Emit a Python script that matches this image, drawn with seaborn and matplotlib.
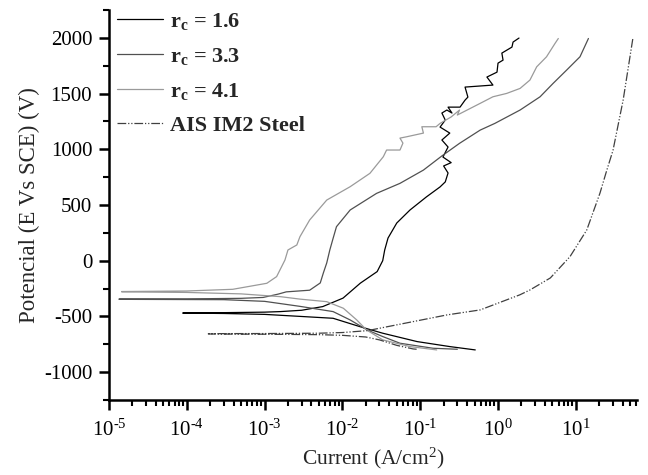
import numpy as np
import pandas as pd
import matplotlib
matplotlib.use("Agg")
import matplotlib.pyplot as plt
from matplotlib.ticker import LogLocator, MultipleLocator, NullFormatter, FuncFormatter
import seaborn as sns

# Polarization curves: current density (A/cm^2) and potential (mV vs SCE),
# each traced from the cathodic end through E_corr and up the anodic branch.
i_16 = [0.51, 0.24, 0.091, 0.033, 0.0168, 0.0076, 0.00285, 0.001, 3e-4, 8.9e-5,
        2e-4, 1e-3, 1.6e-3, 3e-3, 5.6e-3, 0.0102, 0.017, 0.028, 0.033, 0.035, 0.0386,
        0.05, 0.074, 0.12, 0.18, 0.21, 0.228, 0.2, 0.25, 0.196, 0.228, 0.19, 0.24,
        0.18, 0.21, 0.19, 0.22, 0.256, 0.228, 0.325, 0.377, 0.41, 0.377, 0.86, 0.72,
        0.97, 1.0, 1.16, 1.12, 1.51, 1.56, 1.86]
e_16 = [-801, -771, -726, -651, -592, -517, -500, -482, -474, -470,
        -468, -462, -457, -445, -412, -336, -202, -98, 0, 96, 203,
        338, 455, 572, 662, 707, 787, 850, 880, 930, 1020, 1083, 1145,
        1199, 1262, 1325, 1352, 1325, 1378, 1378, 1441, 1468, 1558, 1576, 1648,
        1692, 1773, 1800, 1863, 1917, 1962, 1998]

i_33 = [0.30, 0.146, 0.055, 0.033, 0.0207, 0.0126, 0.0076, 0.00285, 1e-3, 3e-4, 1.35e-5,
        1.35e-5, 1e-4, 5e-4, 9.6e-4, 1.5e-3, 1.9e-3, 3.8e-3, 5.2e-3, 5.7e-3, 6.3e-3,
        6.9e-3, 7.6e-3, 8.4e-3, 0.0126, 0.0275, 0.055, 0.11, 0.19, 0.32, 0.59, 0.91,
        1.92, 3.47, 5.1, 7.6, 11.3, 14.5]
e_33 = [-795, -786, -741, -681, -621, -532, -457, -410, -365, -350, -347,
        -344, -343, -338, -330, -300, -280, -265, -200, -110, -20,
        96, 200, 305, 455, 604, 694, 813, 940, 1053, 1172, 1232,
        1352, 1471, 1591, 1710, 1830, 1994]

i_41 = [0.163, 0.074, 0.033, 0.0204, 0.0153, 0.0103, 6.3e-3, 2.85e-3, 1.6e-3, 5e-4, 1e-4, 1.46e-5,
        1.46e-5, 1e-4, 3.9e-4, 1.07e-3, 1.43e-3, 1.83e-3, 2.0e-3, 2.6e-3, 2.85e-3, 3.8e-3,
        6.3e-3, 0.0126, 0.0226, 0.0336, 0.037, 0.055, 0.06, 0.055, 0.067, 0.11, 0.105,
        0.16, 0.18, 0.25, 0.32, 0.3, 0.59, 0.86, 1.29, 1.92, 2.57, 3.14, 4.2, 5.4, 5.95]
e_41 = [-801, -771, -711, -621, -532, -427, -368, -345, -323, -298, -285, -280,
        -277, -272, -257, -203, -143, 6, 96, 141, 215, 365,
        544, 664, 784, 933, 993, 993, 1055, 1100, 1112, 1145, 1202,
        1202, 1232, 1290, 1352, 1307, 1412, 1471, 1501, 1546, 1621, 1740, 1830, 1950, 1994]

i_ais = [0.09, 0.081, 0.05, 0.03, 0.02, 0.01, 5e-3, 1e-3, 1.9e-4,
         1.9e-4, 1e-3, 5e-3, 0.01, 0.021, 0.081, 0.22, 0.59, 1.9, 2.57, 4.7, 8.4,
         13.8, 20.4, 25, 30, 40.5, 54]
e_ais = [-795, -792, -760, -711, -685, -670, -664, -660, -658,
         -655, -654, -651, -645, -628, -547, -487, -442, -307, -263, -155, 36,
         275, 606, 813, 990, 1441, 1995]

labels = [r"$\mathbf{r_c}$ = 1.6", r"$\mathbf{r_c}$ = 3.3", r"$\mathbf{r_c}$ = 4.1", "AIS IM2 Steel"]
colors = ["#000000", "#505050", "#9a9a9a", "#404040"]
styles = ["-", "-", "-", (0, (7, 1.5, 1, 1.5, 1, 1.5))]

sns.set_theme(style="ticks")
plt.rcParams["font.family"] = ["Liberation Serif", "DejaVu Serif"]
plt.rcParams["mathtext.fontset"] = "custom"
plt.rcParams["mathtext.rm"] = "Liberation Serif"
plt.rcParams["mathtext.it"] = "Liberation Serif:italic"
plt.rcParams["mathtext.bf"] = "Liberation Serif:bold"
plt.rcParams["axes.unicode_minus"] = False

fig = plt.figure(figsize=(6.48, 4.75), dpi=100)
ax = fig.add_axes([0.168, 0.158, 0.815, 0.821])

series = [(i_16, e_16), (i_33, e_33), (i_41, e_41), (i_ais, e_ais)]
for (cur, pot), lab, col, ls in zip(series, labels, colors, styles):
    df = pd.DataFrame({"current": cur, "potential": pot})
    sns.lineplot(data=df, x="current", y="potential", sort=False, estimator=None,
                 color=col, linestyle=ls, linewidth=0.9, label=lab, ax=ax)

ax.set_xscale("log")
ax.set_xlim(1e-5, 61)
ax.set_ylim(-1250, 2250)
ax.xaxis.set_major_locator(LogLocator(base=10, numticks=20))
ax.xaxis.set_minor_locator(LogLocator(base=10, subs=np.arange(2, 10), numticks=50))
ax.xaxis.set_minor_formatter(NullFormatter())


def decade_label(value, pos):
    exponent = int(round(np.log10(value)))
    return r"10$^{\text{%d}}$" % exponent


ax.xaxis.set_major_formatter(FuncFormatter(decade_label))
ax.yaxis.set_major_locator(MultipleLocator(500))
ax.yaxis.set_minor_locator(MultipleLocator(250))

for side in ["top", "right"]:
    ax.spines[side].set_visible(False)
for side in ["left", "bottom"]:
    ax.spines[side].set_linewidth(1.8)
    ax.spines[side].set_color("black")
ax.tick_params(which="major", direction="out", length=7, width=1.8, labelsize=15,
               colors="black", pad=5)
ax.tick_params(axis="x", which="major", pad=7)
ax.tick_params(which="minor", direction="out", length=4, width=1.5, colors="black")

ax.set_xlabel("Current (A/cm$^2$)", fontsize=15.5, labelpad=4)
ax.set_ylabel("Potencial (E Vs SCE) (V)", fontsize=16.5, labelpad=3)

leg = ax.legend(loc="upper left", bbox_to_anchor=(0.163, 1.0),
                bbox_transform=fig.transFigure, frameon=False,
                prop={"family": "Liberation Serif", "weight": "bold", "size": 16},
                handlelength=2.1, handletextpad=0.3, labelspacing=0.62, borderpad=0)
for line in leg.get_lines():
    line.set_linewidth(0.9)

fig.savefig("out.png", dpi=100)
